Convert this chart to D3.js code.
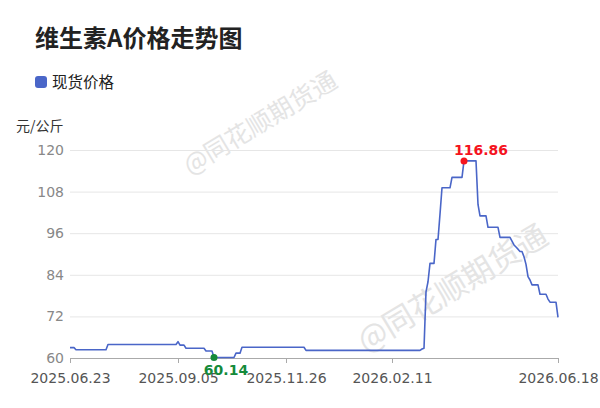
<!DOCTYPE html>
<html>
<head>
<meta charset="utf-8">
<script src="https://cdn.jsdelivr.net/npm/d3@7"></script>
<style>
  html, body { margin: 0; padding: 0; background: #fff; }
  svg { display: block; }
</style>
</head>
<body>
<div id="chart"></div>
<script>
// tick labels on the category axis (index into price)
var tickIdx = [0, 54, 108, 161, 244];
var tickLabels = ["2025.06.23", "2025.09.05", "2025.11.26", "2026.02.11", "2026.06.18"];
var yTicks = [60, 72, 84, 96, 108, 120];
var seriesName = "现货价格";

// daily spot price, 元/公斤
var price = [
  63.0, 63.0, 63.0,
  62.4, 62.4, 62.4, 62.4, 62.4, 62.4, 62.4, 62.4,
  62.4, 62.4, 62.4, 62.4, 62.4, 62.4, 62.4, 62.4,
  63.9, 63.9, 63.9, 63.9, 63.9, 63.9, 63.9, 63.9, 63.9, 63.9,
  63.9, 63.9, 63.9, 63.9, 63.9, 63.9, 63.9, 63.9, 63.9, 63.9,
  63.9, 63.9, 63.9, 63.9, 63.9, 63.9, 63.9, 63.9, 63.9, 63.9,
  63.9, 63.9, 63.9, 63.9, 63.9,
  64.7,
  63.7, 63.7, 63.7,
  62.8, 62.8, 62.8, 62.8, 62.8, 62.8, 62.8, 62.8, 62.8, 62.8,
  62.0, 62.0, 62.0, 62.0,
  60.14, 60.14, 60.14, 60.14, 60.14, 60.14, 60.14, 60.14, 60.14, 60.14, 60.14,
  61.4, 61.4, 61.4,
  63.1, 63.1, 63.1, 63.1, 63.1, 63.1, 63.1, 63.1, 63.1, 63.1,
  63.1, 63.1, 63.1, 63.1, 63.1, 63.1, 63.1, 63.1, 63.1, 63.1,
  63.1, 63.1, 63.1, 63.1, 63.1, 63.1, 63.1, 63.1, 63.1, 63.1,
  63.1, 63.1,
  62.2, 62.2, 62.2, 62.2, 62.2, 62.2, 62.2, 62.2, 62.2, 62.2,
  62.2, 62.2, 62.2, 62.2, 62.2, 62.2, 62.2, 62.2, 62.2, 62.2,
  62.2, 62.2, 62.2, 62.2, 62.2, 62.2, 62.2, 62.2, 62.2, 62.2,
  62.2, 62.2, 62.2, 62.2, 62.2, 62.2, 62.2, 62.2, 62.2, 62.2,
  62.2, 62.2, 62.2, 62.2, 62.2, 62.2, 62.2, 62.2, 62.2, 62.2,
  62.2, 62.2, 62.2, 62.2, 62.2, 62.2, 62.2, 62.2,
  62.6, 62.8,
  79.1, 82.0,
  87.3, 87.3, 87.3,
  94.2, 94.2,
  101.5,
  109.1, 109.1, 109.1, 109.1, 109.1,
  112.1, 112.1, 112.1, 112.1, 112.1, 112.1,
  116.86, 116.86, 116.86, 116.86, 116.86, 116.86, 116.86,
  104.3,
  101.0, 101.0, 101.0, 101.0,
  97.7, 97.7, 97.7, 97.7, 97.7, 97.7,
  94.8, 94.8, 94.8, 94.8, 94.8, 94.8,
  93.7, 92.6, 92.0, 91.4, 90.7, 90.7, 89.2, 87.0, 83.5, 82.5,
  81.1, 81.1, 81.1, 81.1,
  78.4, 78.4, 78.4, 78.4,
  77.0,
  76.1, 76.1, 76.1, 76.1,
  71.7
];

var width = 600, height = 408;
var plotLeft = 70, plotRight = 558, plotTop = 150, plotBottom = 358;
var lineColor = "#4a66c8";
var axisFont = "'DejaVu Sans', sans-serif";
var cjkFont = "'Noto Sans CJK SC', 'Noto Sans', sans-serif";

var svg = d3.select("#chart")
  .append("svg")
  .attr("width", width)
  .attr("height", height)
  .attr("viewBox", "0 0 " + width + " " + height);

var x = d3.scaleLinear()
  .domain([0, price.length - 1])
  .range([plotLeft, plotRight]);

var y = d3.scaleLinear()
  .domain([60, 120])
  .range([plotBottom, plotTop]);

// watermarks
var marks = [
  {cx: 259, cy: 121, size: 25},
  {cx: 451, cy: 286, size: 31}
];
svg.selectAll(".wm").data(marks).enter().append("text")
  .attr("class", "wm")
  .attr("transform", function(d){ return "translate(" + d.cx + "," + d.cy + ") rotate(-31)"; })
  .attr("text-anchor", "middle")
  .attr("dominant-baseline", "central")
  .attr("font-family", cjkFont)
  .attr("font-size", function(d){ return d.size; })
  .attr("fill", "#e4e4e4")
  .text("@同花顺期货通");

// title + legend
svg.append("text")
  .attr("x", 35).attr("y", 47)
  .attr("font-family", cjkFont)
  .attr("font-weight", "bold")
  .attr("font-size", 24)
  .attr("fill", "#222")
  .text("维生素A价格走势图");

svg.append("rect")
  .attr("x", 35).attr("y", 76)
  .attr("width", 12).attr("height", 12)
  .attr("rx", 3)
  .attr("fill", lineColor);

svg.append("text")
  .attr("x", 52).attr("y", 88)
  .attr("font-family", cjkFont)
  .attr("font-size", 15.5)
  .attr("fill", "#222")
  .text(seriesName);

svg.append("text")
  .attr("x", 16).attr("y", 131)
  .attr("font-family", cjkFont)
  .attr("font-size", 14)
  .attr("fill", "#333")
  .text("元/公斤");

// y grid + labels
var yAxis = d3.axisLeft(y)
  .tickValues(yTicks)
  .tickSize(-(plotRight - plotLeft))
  .tickPadding(6);

var gy = svg.append("g")
  .attr("transform", "translate(" + plotLeft + ",0)")
  .call(yAxis);
gy.select(".domain").remove();
gy.selectAll(".tick line")
  .attr("stroke", "#e6e6e6");
gy.selectAll(".tick").filter(function(d){ return d === 60; }).select("line").remove();
gy.selectAll(".tick text")
  .attr("font-family", axisFont)
  .attr("font-size", 14)
  .attr("fill", "#888");

// x axis
var xAxis = d3.axisBottom(x)
  .tickValues(tickIdx)
  .tickFormat(function(d, i){ return tickLabels[i]; })
  .tickSize(5)
  .tickPadding(10);

var gx = svg.append("g")
  .attr("transform", "translate(0," + plotBottom + ")")
  .call(xAxis);
gx.select(".domain").attr("stroke", "#aaa");
gx.selectAll(".tick line").attr("stroke", "#aaa");
gx.selectAll(".tick text")
  .attr("font-family", axisFont)
  .attr("font-size", 14)
  .attr("fill", "#555");

// price line
var line = d3.line()
  .x(function(d, i){ return x(i); })
  .y(function(d){ return y(d); });

svg.append("path")
  .datum(price)
  .attr("d", line)
  .attr("fill", "none")
  .attr("stroke", lineColor)
  .attr("stroke-width", 1.6)
  .attr("stroke-linejoin", "round");

// max / min markers
var maxV = d3.max(price), minV = d3.min(price);
var maxI = price.indexOf(maxV), minI = price.indexOf(minV);

var extremes = [
  {i: maxI, v: maxV, color: "#f5141e", dx: 17, dy: -6},
  {i: minI, v: minV, color: "#148a3a", dx: 12, dy: 17}
];

svg.selectAll(".ext-dot").data(extremes).enter().append("circle")
  .attr("class", "ext-dot")
  .attr("cx", function(d){ return x(d.i); })
  .attr("cy", function(d){ return y(d.v); })
  .attr("r", 3.5)
  .attr("fill", function(d){ return d.color; });

svg.selectAll(".ext-label").data(extremes).enter().append("text")
  .attr("class", "ext-label")
  .attr("x", function(d){ return x(d.i) + d.dx; })
  .attr("y", function(d){ return y(d.v) + d.dy; })
  .attr("text-anchor", "middle")
  .attr("font-family", axisFont)
  .attr("font-weight", "bold")
  .attr("font-size", 14)
  .attr("fill", function(d){ return d.color; })
  .text(function(d){ return d.v.toFixed(2); });
</script>
</body>
</html>
